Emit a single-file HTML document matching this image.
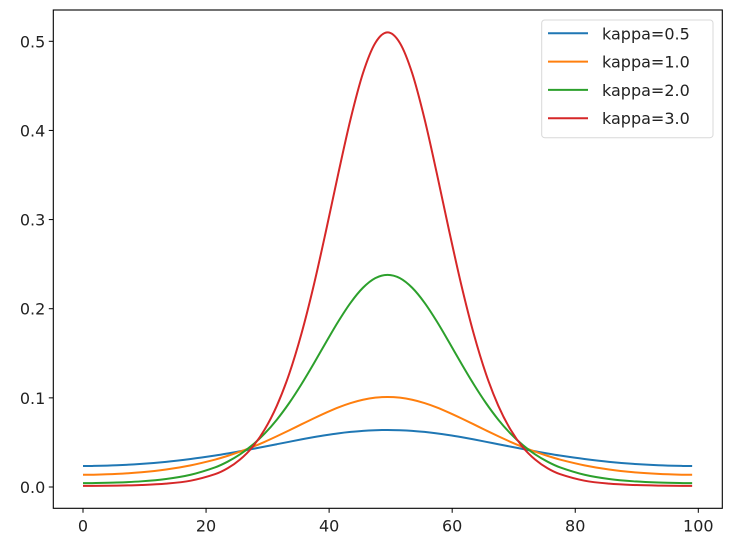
<!DOCTYPE html>
<html><head><meta charset="utf-8"><style>
html,body{margin:0;padding:0;background:#fff}
svg{display:block;font-family:"DejaVu Sans","Liberation Sans",sans-serif}
</style></head><body>
<svg id="chart" width="742" height="558" viewBox="0 0 742 558" xmlns="http://www.w3.org/2000/svg">
<g id="curves"></g>
<g id="axes"></g>
<g id="legend"></g>
</svg>
<script>
const xs = [0,1.5,5.5,9.5,13.5,17.5,21.5,23.5,25.5,27.5,29.5,31.5,33.5,35.5,37.5,39.5,41.5,43.5,45.5,47.5,49.5,51.5,53.5,55.5,57.5,59.5,61.5,63.5,65.5,67.5,69.5,71.5,73.5,75.5,77.5,81.5,85.5,89.5,93.5,97.5,99];
const k05 = [0.0235,0.0236,0.0244,0.0259,0.0282,0.0314,0.0353,0.0376,0.0401,0.0426,0.0453,0.0480,0.0507,0.0534,0.0559,0.0582,0.0602,0.0618,0.0630,0.0637,0.0640,0.0637,0.0630,0.0618,0.0602,0.0582,0.0559,0.0534,0.0507,0.0480,0.0453,0.0426,0.0401,0.0376,0.0353,0.0314,0.0282,0.0259,0.0244,0.0236,0.0235];
const k10 = [0.01367,0.01373,0.01467,0.0165,0.0196,0.0243,0.0308,0.0349,0.0396,0.0448,0.0506,0.0569,0.0635,0.0703,0.0770,0.0834,0.0893,0.0942,0.0979,0.1002,0.1010,0.1002,0.0979,0.0942,0.0893,0.0834,0.0770,0.0703,0.0635,0.0569,0.0506,0.0448,0.0396,0.0349,0.0308,0.0243,0.0196,0.0165,0.01467,0.01373,0.01367];
const k20 = [0.00436,0.0044,0.00501,0.00638,0.0090,0.01375,0.0221,0.0284,0.0365,0.0469,0.0598,0.0755,0.0941,0.1153,0.1384,0.1624,0.1858,0.2068,0.2235,0.2343,0.2380,0.2343,0.2235,0.2068,0.1858,0.1624,0.1384,0.1153,0.0941,0.0755,0.0598,0.0469,0.0365,0.0284,0.0221,0.01375,0.0090,0.00638,0.00501,0.0044,0.00436];
const k30 = [0.00126,0.00128,0.00156,0.00224,0.00375,0.00708,0.01447,0.0210,0.0307,0.0445,0.0642,0.0911,0.1267,0.1719,0.2262,0.2876,0.3519,0.4131,0.4642,0.4981,0.5100,0.4981,0.4642,0.4131,0.3519,0.2876,0.2262,0.1719,0.1267,0.0911,0.0642,0.0445,0.0307,0.0210,0.01447,0.00708,0.00375,0.00224,0.00156,0.00128,0.00126];
const seriesLabels = ["kappa=0.5","kappa=1.0","kappa=2.0","kappa=3.0"];
const xTicks = [0,20,40,60,80,100];
const yTicks = [0.0,0.1,0.2,0.3,0.4,0.5];

const NS="http://www.w3.org/2000/svg";
const L=53.3,R=722.3,T=10,B=508.3;
const X=v=>83+v*6.153;
const Y=v=>487-v*891.4;
const colors=["#1f77b4","#ff7f0e","#2ca02c","#d62728"];
const series=[k05,k10,k20,k30];
function mk(tag,attrs,parent){const e=document.createElementNS(NS,tag);for(const k in attrs)e.setAttribute(k,attrs[k]);parent.appendChild(e);return e;}
function pathFor(ys){
  const p=xs.map((x,i)=>[X(x),Y(ys[i])]);
  let d="M"+p[0][0].toFixed(2)+","+p[0][1].toFixed(2);
  for(let i=0;i<p.length-1;i++){
    const p0=p[Math.max(0,i-1)],p1=p[i],p2=p[i+1],p3=p[Math.min(p.length-1,i+2)];
    const h=p2[0]-p1[0];
    const s1=(p2[1]-p0[1])/(p2[0]-p0[0]||1), s2=(p3[1]-p1[1])/(p3[0]-p1[0]||1);
    const c1=[p1[0]+h/3,p1[1]+s1*h/3];
    const c2=[p2[0]-h/3,p2[1]-s2*h/3];
    d+=" C"+c1.map(v=>v.toFixed(2))+" "+c2.map(v=>v.toFixed(2))+" "+p2.map(v=>v.toFixed(2));
  }
  return d;
}
const cg=document.getElementById('curves');
series.forEach((s,i)=>{
  const el=mk('path',{d:pathFor(s),fill:'none',stroke:colors[i],'stroke-width':2,'stroke-linejoin':'round'},cg);
  
  
});
const ag=document.getElementById('axes');
const frame=mk('rect',{x:L,y:T,width:R-L,height:B-T,fill:'none',stroke:'#000','stroke-width':1.1},ag);


xTicks.forEach(t=>{
  const x=X(t);
  mk('line',{x1:x,x2:x,y1:B,y2:B+4.5,stroke:'#000','stroke-width':1},ag);
  const tx=mk('text',{x:x,y:B+23,'text-anchor':'middle','font-size':16,fill:'#222'},ag);
  tx.textContent=String(t);
  
  
});
yTicks.forEach(t=>{
  const y=Y(t);
  mk('line',{x1:L-4.5,x2:L,y1:y,y2:y,stroke:'#000','stroke-width':1},ag);
  const tx=mk('text',{x:L-8,y:y+6,'text-anchor':'end','font-size':16,fill:'#222'},ag);
  tx.textContent=t.toFixed(1);
  
  
});
const lg=document.getElementById('legend');
const box=mk('rect',{x:541.7,y:20,width:171.3,height:117.7,rx:3,fill:'#fff','fill-opacity':0.8,stroke:'#d8d8d8','stroke-width':1},lg);


seriesLabels.forEach((lab,i)=>{
  const y=33.3+i*28.3;
  const ln=mk('line',{x1:548,x2:588,y1:y,y2:y,stroke:colors[i],'stroke-width':2},lg);
  
  
  const tx=mk('text',{x:602,y:y+6,'font-size':16,fill:'#222'},lg);
  tx.textContent=lab;
  
  
});
</script>
</body></html>
